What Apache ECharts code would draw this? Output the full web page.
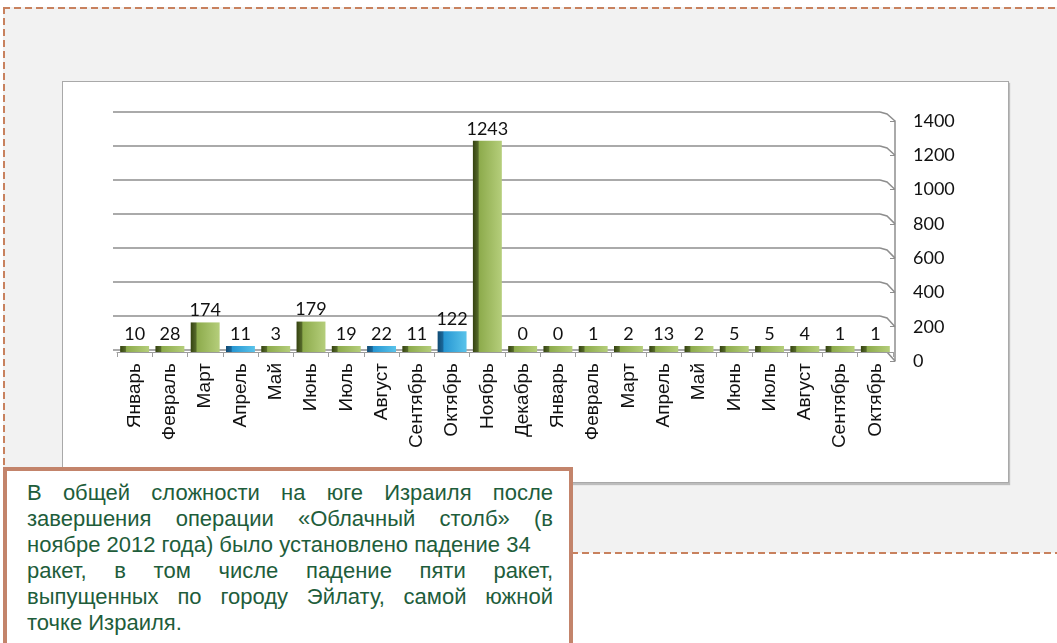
<!DOCTYPE html>
<html>
<head>
<meta charset="utf-8">
<script src="https://cdn.jsdelivr.net/npm/echarts@6/dist/echarts.min.js"></script>
<style>
  html, body { margin: 0; padding: 0; background: #fff; }
  .page { position: relative; width: 1057px; height: 643px; overflow: hidden; }
  .slide-bg { position: absolute; left: 3px; top: 7px; width: 1060px; height: 546px; background: #f2f2f2; }
  .dash-top { position: absolute; left: 3px; top: 7px; width: 1060px; height: 2px;
    background: repeating-linear-gradient(to right, #c8815e 0 7px, transparent 7px 11px); }
  .dash-left { position: absolute; left: 3px; top: 7px; width: 2px; height: 470px;
    background: repeating-linear-gradient(to bottom, #c8815e 0 7px, transparent 7px 11px); }
  .dash-bottom { position: absolute; left: 560px; top: 552px; width: 500px; height: 2px;
    background: repeating-linear-gradient(to right, #c8815e 0 7px, transparent 7px 11px); }
  .panel { position: absolute; left: 62px; top: 81px; width: 945px; height: 400px; background: #fff;
    border: 1px solid #a9a9a9; box-shadow: 1px 2px 1px #bdbdbd; }
  .chart { position: absolute; left: 0; top: 0; width: 1057px; height: 643px; }
  .note { position: absolute; left: 3px; top: 467px; width: 570px; height: 200px; background: #fff;
    border: 4px solid #c3846b; box-sizing: border-box; padding: 9px 0 0 20px;
    font-family: "Liberation Sans", Arial, sans-serif; font-size: 22px; line-height: 26px; color: #1e5d3b; }
  .note div { width: 526px; text-align: justify; text-align-last: justify; white-space: nowrap; }
  .note div.l { text-align-last: left; }
</style>
</head>
<body>
<div class="page">
  <div class="slide-bg"></div>
  <div class="dash-top"></div>
  <div class="dash-left"></div>
  <div class="dash-bottom"></div>
  <div class="panel"></div>
  <div class="chart" name="chart"></div>
  <div class="note">
    <div>В общей сложности на юге Израиля после</div>
    <div>завершения операции «Облачный столб» (в</div>
    <div class="l">ноябре 2012 года) было установлено падение 34</div>
    <div>ракет, в том числе падение пяти ракет,</div>
    <div>выпущенных по городу Эйлату, самой южной</div>
    <div class="l">точке Израиля.</div>
  </div>
</div>
<script>
const months = ['Январь', 'Февраль', 'Март', 'Апрель', 'Май', 'Июнь', 'Июль', 'Август', 'Сентябрь', 'Октябрь', 'Ноябрь', 'Декабрь',
  'Январь', 'Февраль', 'Март', 'Апрель', 'Май', 'Июнь', 'Июль', 'Август', 'Сентябрь', 'Октябрь']
const rockets = [10, 28, 174, 11, 3, 179, 19, 22, 11, 122, 1243, 0, 0, 1, 2, 13, 2, 5, 5, 4, 1, 1]
// bars drawn in blue instead of green
const blueBars = [3, 7, 9]
const yTicks = [0, 200, 400, 600, 800, 1000, 1200, 1400]

const greenFill = new echarts.graphic.LinearGradient(0, 0, 1, 0, [
  { offset: 0, color: '#34420f' },
  { offset: 0.18, color: '#55692a' },
  { offset: 0.22, color: '#8dab4c' },
  { offset: 1, color: '#b5ce7b' }
])
const blueFill = new echarts.graphic.LinearGradient(0, 0, 1, 0, [
  { offset: 0, color: '#114b73' },
  { offset: 0.18, color: '#1a6799' },
  { offset: 0.22, color: '#2797d3' },
  { offset: 1, color: '#5ac3ea' }
])

const chart = echarts.init(document.querySelector('[name="chart"]'))

const option = {
  animation: false,
  grid: [
    // back wall with grid lines
    { left: 113, right: 177, top: 112, bottom: 293 },
    // bars and category labels
    { left: 117, right: 164, top: 114, bottom: 291 },
    // value axis at the right
    { left: 700, right: 162, top: 121, bottom: 282 }
  ],
  xAxis: [
    { gridIndex: 0, type: 'value', min: 0, max: 1, show: false },
    {
      gridIndex: 1,
      type: 'category',
      data: months,
      axisLine: { lineStyle: { color: '#9a9a9a', width: 1 } },
      axisTick: { show: true, length: 5, lineStyle: { color: '#a0a0a0' } },
      axisLabel: {
        rotate: 90,
        margin: 11,
        interval: 0,
        fontFamily: 'Liberation Sans',
        fontSize: 19,
        color: '#111'
      }
    },
    { gridIndex: 2, type: 'value', min: 0, max: 1, show: false }
  ],
  yAxis: [
    {
      gridIndex: 0, type: 'value', min: 0, max: 1400, interval: 200,
      axisLine: { show: false }, axisTick: { show: false }, axisLabel: { show: false },
      splitLine: { lineStyle: { color: '#8e8e8e', width: 1.5 } }
    },
    {
      gridIndex: 1, type: 'value', min: 0, max: 1400, interval: 200,
      show: false, splitLine: { show: false }
    },
    {
      gridIndex: 2, type: 'value', position: 'right', min: 0, max: 1400, interval: 200,
      axisLine: { show: true, onZero: false, lineStyle: { color: '#8e8e8e', width: 1.5 } },
      axisTick: { show: true, inside: true, length: 5, lineStyle: { color: '#8e8e8e' } },
      splitLine: { show: false },
      axisLabel: { margin: 18, fontFamily: 'Lato', fontSize: 18, color: '#111', formatter: v => String(v) }
    }
  ],
  series: [
    {
      type: 'bar',
      xAxisIndex: 1,
      yAxisIndex: 1,
      barWidth: '82%',
      barMinHeight: 6,
      data: rockets.map((v, i) => ({
        value: v,
        itemStyle: { color: blueBars.includes(i) ? blueFill : greenFill }
      })),
      label: {
        show: true,
        position: 'top',
        distance: 3,
        fontFamily: 'Lato',
        fontSize: 18,
        color: '#111'
      }
    }
  ]
}

chart.setOption(option)

// short bent connectors from the back grid lines to the value axis
const connectors = yTicks.map(v => {
  const a = chart.convertToPixel({ gridIndex: 0 }, [1, v])
  const b = chart.convertToPixel({ gridIndex: 2 }, [1, v])
  return {
    type: 'polyline',
    shape: { points: [a, [a[0] + 7, a[1] + 2], b] },
    style: { stroke: '#8e8e8e', lineWidth: 1.5, fill: null }
  }
})
chart.setOption({ graphic: connectors })
</script>
</body>
</html>
